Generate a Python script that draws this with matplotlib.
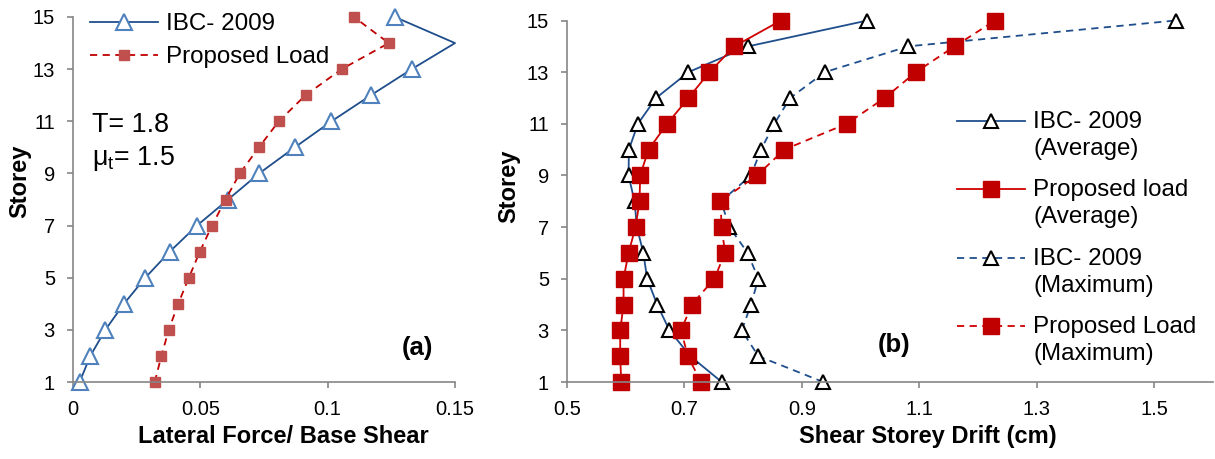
import numpy as np
import matplotlib
matplotlib.use("Agg")
import matplotlib.pyplot as plt
from matplotlib.legend_handler import HandlerLine2D

plt.rcParams['font.family'] = ['Liberation Sans', 'DejaVu Sans']
plt.rcParams['font.size'] = 15

storey = np.arange(1, 16)

# (a) normalised lateral force distribution
ibc_force = [0.0026, 0.0068, 0.0127, 0.020, 0.0284, 0.038, 0.0487, 0.0609,
             0.0731, 0.0871, 0.1015, 0.117, 0.133, 0.150, 0.1264]
prop_force = [0.0321, 0.0347, 0.0376, 0.0413, 0.0455, 0.0498, 0.0546, 0.0599,
              0.0655, 0.073, 0.0808, 0.0913, 0.1055, 0.124, 0.1103]

# (b) shear storey drift (cm)
ibc_avg = [0.7635, 0.710, 0.6745, 0.6535, 0.6365, 0.630, 0.619, 0.615,
           0.6048, 0.6054, 0.6207, 0.6518, 0.7068, 0.8088, 1.0116]
prop_avg = [0.5923, 0.5906, 0.5906, 0.5963, 0.5963, 0.6048, 0.6167, 0.6235,
            0.6246, 0.6388, 0.6705, 0.7068, 0.7425, 0.785, 0.8643]
ibc_max = [0.9363, 0.8258, 0.7975, 0.8133, 0.8258, 0.8076, 0.7765, 0.7623,
           0.8133, 0.8303, 0.853, 0.880, 0.939, 1.0813, 1.5364]
prop_max = [0.7283, 0.7057, 0.6943, 0.7125, 0.751, 0.769, 0.7635, 0.761,
            0.8235, 0.870, 0.976, 1.041, 1.094, 1.160, 1.229]


class TopLineHandler(HandlerLine2D):
    """Legend line lifted to sit beside the first line of a two-line label."""
    def create_artists(self, legend, orig_handle, xdescent, ydescent,
                       width, height, fontsize, trans):
        arts = super().create_artists(legend, orig_handle, xdescent, ydescent,
                                      width, height, fontsize, trans)
        for a in arts:
            a.set_ydata(np.asarray(a.get_ydata()) + 0.6 * fontsize)
        return arts


fig = plt.figure(figsize=(12.15, 4.59), dpi=100)
W, H = 1215, 459
ax1 = fig.add_axes([73 / W, 1 - 382 / H, (455 - 73) / W, (382 - 17) / H])
ax2 = fig.add_axes([567 / W, 1 - 382 / H, (1213 - 567) / W, (382 - 20.5) / H])

axis_grey = '#868686'
for ax in (ax1, ax2):
    for s in ('top', 'right'):
        ax.spines[s].set_visible(False)
    for s in ('left', 'bottom'):
        ax.spines[s].set_color(axis_grey)
        ax.spines[s].set_linewidth(1.2)
    ax.tick_params(color=axis_grey, width=1.2, length=4, labelsize=14.5)
    ax.tick_params(axis='x', pad=9)
    ax.tick_params(axis='y', pad=9)
    ax.set_ylim(1, 15)
    ax.set_yticks(range(1, 16, 2))
    ax.set_ylabel('Storey', fontsize=17, fontweight='bold')

# panel (a)
ax1.plot(ibc_force, storey, color='#1f4e8c', lw=1.3, marker='^', ms=11.5,
         mfc='white', mec='#4f81bd', mew=1.5, clip_on=False,
         markevery=[i for i in range(15) if i != 13], label='IBC- 2009')
ax1.plot(prop_force, storey, color='#c00000', lw=1.3, ls=(0, (4, 3)), marker='s',
         ms=7.3, mfc='#c0504d', mec='#c0504d', clip_on=False, label='Proposed Load')
ax1.set_xlim(0, 0.15)
ax1.set_xticks([0, 0.05, 0.1, 0.15])
ax1.set_xticklabels(['0', '0.05', '0.1', '0.15'])
ax1.set_xlabel('Lateral Force/ Base Shear', fontsize=17, fontweight='bold')
ax1.xaxis.set_label_coords(0.552, -0.118)
ax1.yaxis.set_label_coords(-0.11, 0.55)
ax1.legend(loc='upper left', bbox_to_anchor=(0.045, 1.011), frameon=False,
           fontsize=17.4, handlelength=2.8, handletextpad=0.35, labelspacing=0.47,
           borderpad=0, borderaxespad=0)
ax1.text(0.05, 0.685, 'T= 1.8', transform=ax1.transAxes, fontsize=19.4,
         va='baseline')
ax1.text(0.05, 0.595, r'$\mathregular{\mu_t}$= 1.5', transform=ax1.transAxes,
         fontsize=19.4, va='baseline')
ax1.text(0.861, 0.074, '(a)', transform=ax1.transAxes, fontsize=18.5,
         fontweight='bold', va='baseline')

# panel (b)
ax2.plot(ibc_avg, storey, color='#1f4e8c', lw=1.3, marker='^', ms=10.3,
         mfc='white', mec='black', mew=1.5, clip_on=False,
         label='IBC- 2009\n(Average)')
ax2.plot(prop_avg, storey, color='#d00000', lw=1.3, marker='s', ms=11.3,
         mfc='#c00000', mec='#c00000', clip_on=False,
         label='Proposed load\n(Average)')
ax2.plot(ibc_max, storey, color='#1f4e8c', lw=1.3, ls=(0, (4, 3)), marker='^',
         ms=10.3, mfc='white', mec='black', mew=1.5, clip_on=False,
         label='IBC- 2009\n(Maximum)')
ax2.plot(prop_max, storey, color='#d00000', lw=1.3, ls=(0, (4, 3)), marker='s',
         ms=11.3, mfc='#c00000', mec='#c00000', clip_on=False,
         label='Proposed Load\n(Maximum)')
ax2.set_xlim(0.5, 1.6)
ax2.set_xticks([0.5, 0.7, 0.9, 1.1, 1.3, 1.5])
ax2.set_xlabel('Shear Storey Drift (cm)', fontsize=17, fontweight='bold')
ax2.xaxis.set_label_coords(0.559, -0.12)
ax2.yaxis.set_label_coords(-0.072, 0.54)
leg = ax2.legend(loc='upper left', bbox_to_anchor=(0.604, 0.75), frameon=False,
                 fontsize=17.4, handlelength=2.8, handletextpad=0.35,
                 labelspacing=0.8, borderpad=0, borderaxespad=0,
                 handler_map={plt.Line2D: TopLineHandler()})
for t in leg.get_texts():
    t.set_linespacing(1.3)
ax2.text(0.481, 0.082, '(b)', transform=ax2.transAxes, fontsize=18.5,
         fontweight='bold', va='baseline')

fig.savefig('out.png', dpi=100)
